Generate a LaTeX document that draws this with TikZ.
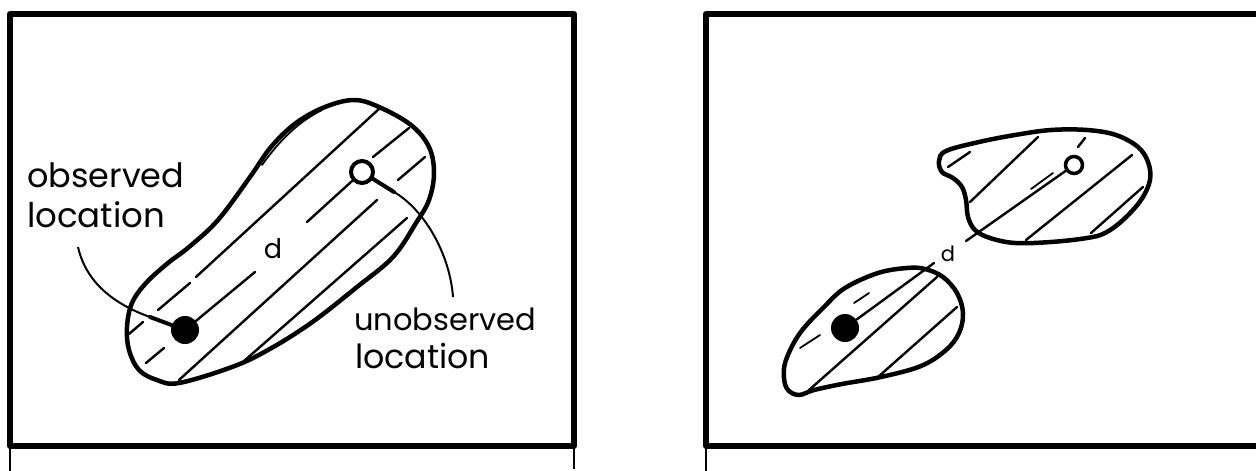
\documentclass[tikz,border=0pt]{standalone}
\usepackage{fontspec}
\setmainfont{Poppins}
\begin{document}
\begin{tikzpicture}[x=1pt,y=-1pt,
  frame/.style={line width=6pt,line join=round,line cap=round},
  tick/.style={line width=1.8pt},
  blob/.style={line width=4.5pt,line join=round},
  hatch/.style={line width=2.4pt,line cap=round},
  sketch/.style={line width=1.8pt,line cap=round},
  leader/.style={line width=2pt},
  leaderend/.style={line width=4pt,line cap=round},
  dotfill/.style={circle,fill=black,inner sep=0pt,minimum size=28pt},
  ring/.style={circle,draw=black,line width=4pt,fill=white,inner sep=0pt,minimum size=22pt},
  lbl/.style={inner sep=0pt,anchor=base west,font=\fontsize{30}{36}\selectfont}]
\useasboundingbox (0,0) rectangle (1256,471);

% ---------- frames ----------
\draw[frame] (10,446) -- (10,14) -- (574,14) -- (574,446) -- cycle;
\draw[tick] (10,446) -- (10,471);
\draw[tick] (574,446) -- (574,469);
\draw[frame] (1262,14) -- (706,14) -- (706,446) -- (1262,446);
\draw[tick] (706,446) -- (706,471);

% ---------- left panel ----------
\draw[blob] plot[smooth cycle,tension=0.6] coordinates {
 (354,100) (379,107) (411,125) (429,147) (434,173) (429,200) (416,223)
 (393,257) (357,287) (311,323) (268,350) (232,367) (179,383) (157,380)
 (139,370) (129,350) (127,327) (132,303) (146,283) (168,263) (189,247)
 (218,220) (250,177) (271,147) (296,123) (325,107)};
\draw[sketch] (262,165) .. controls (280,140) and (298,122) .. (322,110);

\draw[hatch] (380,108) -- (196,277);
\draw[hatch] (190,283) -- (158,310);
\draw[hatch] (143,322) -- (129,334);
\draw[hatch] (164,348) -- (146,363);
\draw[hatch] (409,128) -- (373,157);
\draw[hatch] (425,157) -- (398,180);
\draw[hatch] (377,200) -- (179,380);
\draw[hatch] (407,218) -- (244,361);

\node[dotfill] (obs) at (185,330) {};
\node[ring] (unobs) at (362,172) {};
\draw[hatch] (unobs) -- (307,222);
\draw[hatch] (255,272) -- (obs);
\node[inner sep=0pt,font=\fontsize{27}{30}\selectfont] (dl) at (273,249) {d};

\coordinate (obsA) at (78,247);
\coordinate (obsB) at (150,317);
\draw[leader] (obsA) .. controls (85,278) and (108,302) .. (obsB);
\draw[leaderend] (obsB) -- (obs);
\coordinate (unB) at (394,192);
\coordinate (unA) at (453,297);
\draw[leaderend] (unobs) -- (unB);
\draw[leader] (unB) .. controls (425,210) and (450,255) .. (unA);

\node[lbl] (t1) at (27,187) {\resizebox{157pt}{!}{observed}};
\node[lbl] (t2) at (27,227) {\resizebox{138pt}{!}{location}};
\node[lbl] (t3) at (354,330) {\resizebox{182pt}{!}{unobserved}};
\node[lbl] (t4) at (355,368) {\resizebox{135pt}{!}{location}};

% ---------- right panel ----------
\draw[blob] plot[smooth cycle,tension=0.6] coordinates {
 (946,151) (979,142) (1015,135) (1051,130) (1087,130) (1116,135) (1138,147)
 (1148,162) (1150,180) (1141,200) (1123,220) (1105,233) (1087,238)
 (1051,242) (1015,243) (990,238) (975,230) (968,217) (966,200) (962,187)
 (953,178) (942,172) (939,161)};
\draw[hatch] (948,167) -- (970,152);
\draw[hatch] (1038,137) -- (970,202);
\draw[hatch] (1078,147) -- (1085,138);
\draw[hatch] (1132,155) -- (1026,240);
\draw[hatch] (1143,187) -- (1091,233);
\draw[sketch] (1031,189) -- (1053,173);

\draw[blob] plot[smooth cycle,tension=0.6] coordinates {
 (907,268) (925,269) (943,277) (957,293) (963,313) (959,333) (946,350)
 (921,366) (881,377) (842,384) (814,390) (799,395) (788,390) (784,378)
 (786,360) (800,333) (824,307) (845,288) (878,273)};
\draw[hatch] (937,277) -- (809,390);
\draw[hatch] (957,307) -- (878,377);
\draw[sketch] (854,303) -- (869,293);
\draw[sketch] (800,348) -- (820,335);

\node[dotfill] (obs2) at (845,328) {};
\node[ring,minimum size=17pt,line width=3.5pt] (unobs2) at (1074,165) {};
\draw[hatch] (unobs2) -- (966,241);
\draw[hatch] (934,263) -- (obs2);
\node[inner sep=0pt,font=\fontsize{21}{24}\selectfont] (dr) at (948,254) {d};
\end{tikzpicture}
\end{document}
